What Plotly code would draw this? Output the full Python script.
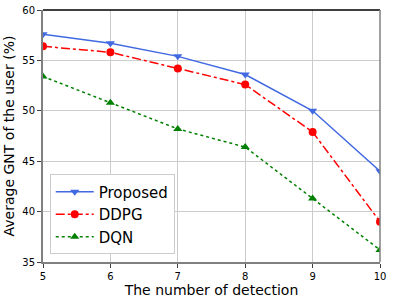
import plotly.graph_objects as go

x_vals = [5, 6, 7, 8, 9, 10]
proposed = [57.6, 56.7, 55.4, 53.6, 50.0, 44.0]
ddpg = [56.4, 55.8, 54.2, 52.6, 47.9, 39.0]
dqn = [53.4, 50.8, 48.2, 46.4, 41.3, 36.2]

fig = go.Figure()
fig.add_trace(go.Scatter(x=x_vals, y=proposed, name="Proposed", mode="lines+markers",
                         line=dict(color="#4169e1", width=1.5),
                         marker=dict(symbol="triangle-down", size=8, color="#4169e1")))
fig.add_trace(go.Scatter(x=x_vals, y=ddpg, name="DDPG", mode="lines+markers",
                         line=dict(color="red", width=1.5, dash="dashdot"),
                         marker=dict(symbol="circle", size=8, color="red")))
fig.add_trace(go.Scatter(x=x_vals, y=dqn, name="DQN", mode="lines+markers",
                         line=dict(color="green", width=1.5, dash="dot"),
                         marker=dict(symbol="triangle-up", size=8, color="green")))

fig.update_layout(
    width=393, height=302,
    margin=dict(l=43, r=13, t=10, b=40),
    plot_bgcolor="white", paper_bgcolor="white",
    font=dict(family="DejaVu Sans", color="black"),
    legend=dict(x=0.02, y=0.03, xanchor="left", yanchor="bottom",
                bgcolor="white", bordercolor="#cccccc", borderwidth=1,
                font=dict(size=15), itemwidth=38, tracegroupgap=0),
    xaxis=dict(range=[5, 10], tickvals=x_vals, ticktext=[str(v) for v in x_vals],
               showgrid=True, gridcolor="#cccccc", gridwidth=1,
               showline=True, linecolor="#808080", linewidth=2,
               ticks="outside", ticklen=4, tickcolor="#404040",
               tickfont=dict(size=10), zeroline=False, automargin=False,
               title=dict(text="The number of detection", font=dict(size=14), standoff=4)),
    yaxis=dict(range=[35, 60], tickvals=[35, 40, 45, 50, 55, 60],
               showgrid=True, gridcolor="#cccccc", gridwidth=1,
               showline=True, linecolor="#808080", linewidth=2,
               ticks="outside", ticklen=4, tickcolor="#404040",
               tickfont=dict(size=10), zeroline=False, automargin=False,
               title=dict(text="Average GNT of the user (%)", font=dict(size=14), standoff=4)),
    shapes=[
        dict(type="line", xref="paper", yref="paper", x0=0, x1=1, y0=1, y1=1,
             line=dict(color="black", width=1.5)),
        dict(type="line", xref="paper", yref="paper", x0=1, x1=1, y0=0, y1=1,
             line=dict(color="#808080", width=1.5)),
    ],
)

fig.write_html("out.html", post_script="document.body.style.margin='0';",
               config={"displayModeBar": False})
